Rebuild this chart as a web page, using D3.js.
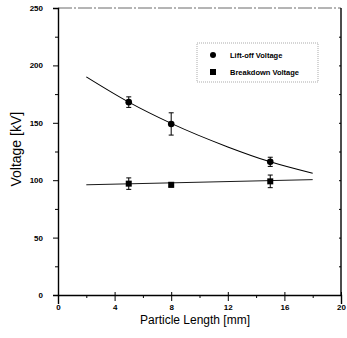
<!DOCTYPE html>
<html>
<head>
<meta charset="utf-8">
<script src="https://d3js.org/d3.v7.min.js"></script>
<style>
  body { margin: 0; background: #fff; }
  text { font-family: "Liberation Sans", Arial, sans-serif; }
</style>
</head>
<body>
<script>
// measured points
let lengths = [5, 8, 15];
let liftoff = [168, 149, 116];
let liftoffErr = [4.6, 9.7, 4];
let breakdown = [97, 96, 99];
let breakdownErr = [5, 2, 5.5];

// fitted curves
let liftFitX = [2, 5, 8, 12, 15, 18];
let liftFitY = [190, 168, 149.5, 129, 116, 106];
let breakFitX = [2, 18];
let breakFitY = [96, 100.5];

let xTicks = [0, 4, 8, 12, 16, 20];
let yTicks = [0, 50, 100, 150, 200, 250];

let width = 347, height = 338;
let svg = d3.select("body").append("svg")
    .attr("width", width)
    .attr("height", height);

let x = d3.scaleLinear().domain([0, 20]).range([58, 341]);
let y = d3.scaleLinear().domain([0, 250]).range([295, 8]);

// frame: top dashed, right solid
svg.append("line")
    .attr("x1", x(0)).attr("x2", x(20))
    .attr("y1", y(250)).attr("y2", y(250))
    .attr("stroke", "#444").attr("stroke-width", 0.8)
    .attr("stroke-dasharray", "14,2,2,2");
svg.append("line")
    .attr("x1", x(20)).attr("x2", x(20))
    .attr("y1", y(250)).attr("y2", y(0))
    .attr("stroke", "#000").attr("stroke-width", 1.4);

// left axis
let yAxis = d3.axisLeft(y).tickValues(yTicks).tickSize(5).tickPadding(10);
let gy = svg.append("g").attr("transform", `translate(${x(0)},0)`).call(yAxis);
gy.select(".domain").attr("stroke-width", 1.4);
gy.selectAll("text").attr("font-size", "8px").attr("font-weight", "bold");
svg.append("g").attr("transform", `translate(${x(0)},0)`)
    .call(d3.axisLeft(y).tickValues([25, 75, 125, 175, 225]).tickSize(3).tickFormat(""))
    .select(".domain").remove();

// right axis minor ticks (inward)
svg.append("g").attr("transform", `translate(${x(20)},0)`)
    .call(d3.axisLeft(y).tickValues(d3.range(25, 250, 25)).tickSize(2).tickFormat(""))
    .select(".domain").remove();

// bottom axis
let xAxis = d3.axisBottom(x).tickValues(xTicks).tickSize(9);
let gx = svg.append("g").attr("transform", `translate(0,${y(0)})`).call(xAxis);
gx.select(".domain").attr("stroke-width", 1.4);
gx.selectAll(".tick line").attr("transform", "translate(0,-3)");
gx.selectAll("text").attr("y", 9).attr("font-size", "8px").attr("font-weight", "bold");
svg.append("g").attr("transform", `translate(0,${y(0)})`)
    .call(d3.axisBottom(x).tickValues([2, 6, 10, 14, 18]).tickSize(3).tickFormat(""))
    .select(".domain").remove();

// axis titles
svg.append("text")
    .attr("x", 195).attr("y", 324)
    .attr("text-anchor", "middle")
    .attr("font-size", "12px")
    .text("Particle Length [mm]");
svg.append("text")
    .attr("transform", `translate(21,${y(127)}) rotate(-90)`)
    .attr("text-anchor", "middle")
    .attr("font-size", "14px")
    .text("Voltage [kV]");

// fit lines
let line = d3.line().x(d => x(d[0])).y(d => y(d[1])).curve(d3.curveMonotoneX);
svg.append("path")
    .attr("d", line(d3.zip(liftFitX, liftFitY)))
    .attr("fill", "none").attr("stroke", "#000").attr("stroke-width", 1.1);
svg.append("path")
    .attr("d", line(d3.zip(breakFitX, breakFitY)))
    .attr("fill", "none").attr("stroke", "#000").attr("stroke-width", 0.9);

// error bars
function errBars(vals, errs) {
  let g = svg.append("g").attr("stroke", "#000").attr("stroke-width", 1);
  lengths.forEach(function (l, i) {
    g.append("line")
      .attr("x1", x(l)).attr("x2", x(l))
      .attr("y1", y(vals[i] - errs[i])).attr("y2", y(vals[i] + errs[i]));
    [vals[i] - errs[i], vals[i] + errs[i]].forEach(function (v) {
      g.append("line")
        .attr("x1", x(l) - 2.5).attr("x2", x(l) + 2.5)
        .attr("y1", y(v)).attr("y2", y(v));
    });
  });
}
errBars(liftoff, liftoffErr);
errBars(breakdown, breakdownErr);

svg.selectAll("circle.lift")
  .data(d3.zip(lengths, liftoff))
  .enter().append("circle")
    .attr("cx", d => x(d[0]))
    .attr("cy", d => y(d[1]))
    .attr("r", 3.3)
    .attr("fill", "#000");

svg.selectAll("rect.brk")
  .data(d3.zip(lengths, breakdown))
  .enter().append("rect")
    .attr("x", d => x(d[0]) - 3)
    .attr("y", d => y(d[1]) - 3)
    .attr("width", 6).attr("height", 6)
    .attr("fill", "#000");

// legend
let lg = svg.append("g");
lg.append("rect")
    .attr("x", 197).attr("y", 43).attr("width", 121).attr("height", 39)
    .attr("fill", "none").attr("stroke", "#888").attr("stroke-width", 0.7)
    .attr("stroke-dasharray", "1,1");
lg.append("circle").attr("cx", 213).attr("cy", 55).attr("r", 3).attr("fill", "#000");
lg.append("rect").attr("x", 210).attr("y", 69).attr("width", 6).attr("height", 6).attr("fill", "#000");
lg.append("text").attr("x", 230).attr("y", 58)
    .attr("font-size", "7.5px").attr("font-weight", "bold").text("Lift-off Voltage");
lg.append("text").attr("x", 230).attr("y", 75)
    .attr("font-size", "7.5px").attr("font-weight", "bold").text("Breakdown Voltage");
</script>
</body>
</html>
